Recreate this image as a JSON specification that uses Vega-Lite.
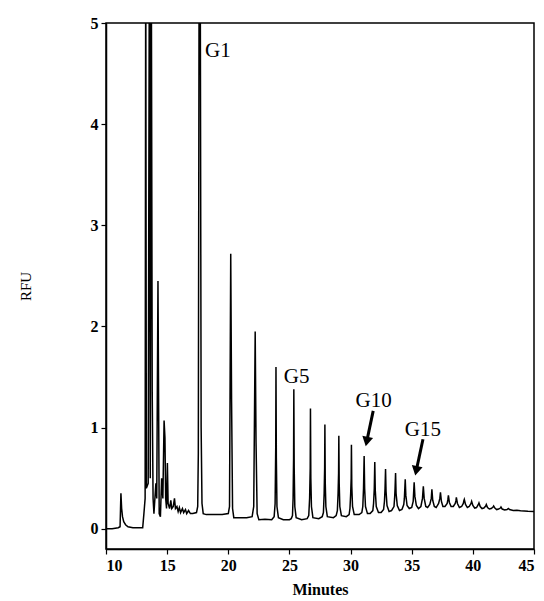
{
  "$schema": "https://vega.github.io/schema/vega-lite/v6.json",
  "width": 428,
  "height": 526,
  "autosize": {"type": "none"},
  "padding": {"left": 106, "top": 23, "right": 10, "bottom": 52},
  "background": "white",
  "config": {
    "view": {"stroke": "black", "strokeWidth": 1.5},
    "axis": {
      "domainColor": "black", "domainWidth": 1.5, "tickColor": "black", "tickWidth": 1.2, "tickSize": 5,
      "grid": false, "labelFont": "Liberation Serif", "labelFontSize": 16, "labelColor": "black",
      "titleFont": "Liberation Serif", "titleColor": "black", "labelFontWeight": "bold"
    }
  },
  "datasets": {
    "trace": [
      {"t": 10.0, "rfu": 0.0}, {"t": 10.5, "rfu": 0.0}, {"t": 11.0, "rfu": 0.01}, {"t": 11.15, "rfu": 0.02},
      {"t": 11.22, "rfu": 0.35}, {"t": 11.28, "rfu": 0.2}, {"t": 11.35, "rfu": 0.12}, {"t": 11.45, "rfu": 0.07},
      {"t": 11.6, "rfu": 0.04}, {"t": 11.8, "rfu": 0.02}, {"t": 12.2, "rfu": 0.01}, {"t": 13.0, "rfu": 0.01},
      {"t": 13.1, "rfu": 0.15}, {"t": 13.2, "rfu": 0.3}, {"t": 13.25, "rfu": 6.0}, {"t": 13.3, "rfu": 0.4},
      {"t": 13.45, "rfu": 0.45}, {"t": 13.55, "rfu": 6.0}, {"t": 13.62, "rfu": 0.5}, {"t": 13.7, "rfu": 6.0},
      {"t": 13.78, "rfu": 1.35}, {"t": 13.85, "rfu": 0.3}, {"t": 13.92, "rfu": 0.15}, {"t": 14.0, "rfu": 0.3},
      {"t": 14.08, "rfu": 0.45}, {"t": 14.15, "rfu": 0.3}, {"t": 14.25, "rfu": 2.45}, {"t": 14.35, "rfu": 0.15},
      {"t": 14.45, "rfu": 0.12}, {"t": 14.55, "rfu": 0.5}, {"t": 14.65, "rfu": 0.3}, {"t": 14.75, "rfu": 1.07},
      {"t": 14.82, "rfu": 0.9}, {"t": 14.88, "rfu": 0.3}, {"t": 14.95, "rfu": 0.2}, {"t": 15.02, "rfu": 0.65},
      {"t": 15.08, "rfu": 0.25}, {"t": 15.2, "rfu": 0.2}, {"t": 15.3, "rfu": 0.28}, {"t": 15.38, "rfu": 0.2},
      {"t": 15.5, "rfu": 0.22}, {"t": 15.6, "rfu": 0.3}, {"t": 15.68, "rfu": 0.2}, {"t": 15.8, "rfu": 0.22},
      {"t": 15.9, "rfu": 0.17}, {"t": 16.0, "rfu": 0.21}, {"t": 16.1, "rfu": 0.16}, {"t": 16.25, "rfu": 0.2},
      {"t": 16.35, "rfu": 0.16}, {"t": 16.5, "rfu": 0.19}, {"t": 16.6, "rfu": 0.15}, {"t": 16.75, "rfu": 0.18},
      {"t": 16.9, "rfu": 0.15}, {"t": 17.1, "rfu": 0.15}, {"t": 17.4, "rfu": 0.16}, {"t": 17.5, "rfu": 0.22},
      {"t": 17.55, "rfu": 0.75}, {"t": 17.62, "rfu": 6.0}, {"t": 17.7, "rfu": 6.0}, {"t": 17.78, "rfu": 1.0},
      {"t": 17.85, "rfu": 0.25}, {"t": 17.95, "rfu": 0.15}, {"t": 18.2, "rfu": 0.14}, {"t": 18.8, "rfu": 0.14},
      {"t": 19.5, "rfu": 0.14}, {"t": 20.0, "rfu": 0.15}, {"t": 20.1, "rfu": 0.22}, {"t": 20.2, "rfu": 2.72},
      {"t": 20.27, "rfu": 1.25}, {"t": 20.35, "rfu": 0.2}, {"t": 20.45, "rfu": 0.11}, {"t": 21.0, "rfu": 0.11},
      {"t": 21.5, "rfu": 0.11}, {"t": 21.95, "rfu": 0.12}, {"t": 22.08, "rfu": 0.22}, {"t": 22.2, "rfu": 1.95},
      {"t": 22.27, "rfu": 0.85}, {"t": 22.36, "rfu": 0.15}, {"t": 22.5, "rfu": 0.09}, {"t": 23.0, "rfu": 0.095},
      {"t": 23.55, "rfu": 0.09}, {"t": 23.75, "rfu": 0.12}, {"t": 23.83, "rfu": 0.25}, {"t": 23.88, "rfu": 0.8},
      {"t": 23.9, "rfu": 1.6}, {"t": 23.93, "rfu": 0.7}, {"t": 23.98, "rfu": 0.22}, {"t": 24.1, "rfu": 0.11},
      {"t": 24.5, "rfu": 0.09}, {"t": 25.0, "rfu": 0.09},
      {"t": 25.15, "rfu": 0.1}, {"t": 25.25, "rfu": 0.13}, {"t": 25.3, "rfu": 0.3}, {"t": 25.34, "rfu": 0.7},
      {"t": 25.36, "rfu": 1.38}, {"t": 25.39, "rfu": 0.6}, {"t": 25.44, "rfu": 0.22}, {"t": 25.55, "rfu": 0.11},
      {"t": 26.0, "rfu": 0.09}, {"t": 26.45, "rfu": 0.1},
      {"t": 26.58, "rfu": 0.13}, {"t": 26.65, "rfu": 0.3}, {"t": 26.7, "rfu": 0.6}, {"t": 26.72, "rfu": 1.19},
      {"t": 26.75, "rfu": 0.5}, {"t": 26.8, "rfu": 0.22}, {"t": 26.92, "rfu": 0.11}, {"t": 27.4, "rfu": 0.1},
      {"t": 27.68, "rfu": 0.12},
      {"t": 27.78, "rfu": 0.16}, {"t": 27.84, "rfu": 0.35}, {"t": 27.88, "rfu": 0.6}, {"t": 27.9, "rfu": 1.03},
      {"t": 27.93, "rfu": 0.45}, {"t": 27.98, "rfu": 0.22}, {"t": 28.1, "rfu": 0.12}, {"t": 28.6, "rfu": 0.11},
      {"t": 28.82, "rfu": 0.13},
      {"t": 28.92, "rfu": 0.18}, {"t": 28.98, "rfu": 0.35}, {"t": 29.02, "rfu": 0.55}, {"t": 29.04, "rfu": 0.92},
      {"t": 29.07, "rfu": 0.45}, {"t": 29.12, "rfu": 0.22}, {"t": 29.25, "rfu": 0.13}, {"t": 29.65, "rfu": 0.12},
      {"t": 29.88, "rfu": 0.14},
      {"t": 29.95, "rfu": 0.2}, {"t": 30.01, "rfu": 0.35}, {"t": 30.05, "rfu": 0.5}, {"t": 30.07, "rfu": 0.83},
      {"t": 30.1, "rfu": 0.42}, {"t": 30.16, "rfu": 0.22}, {"t": 30.3, "rfu": 0.14}, {"t": 30.7, "rfu": 0.14},
      {"t": 30.92, "rfu": 0.16},
      {"t": 31.0, "rfu": 0.22}, {"t": 31.06, "rfu": 0.4}, {"t": 31.11, "rfu": 0.72}, {"t": 31.15, "rfu": 0.4},
      {"t": 31.22, "rfu": 0.22}, {"t": 31.38, "rfu": 0.15}, {"t": 31.6, "rfu": 0.15}, {"t": 31.82, "rfu": 0.18},
      {"t": 31.88, "rfu": 0.25}, {"t": 31.94, "rfu": 0.4}, {"t": 31.98, "rfu": 0.66}, {"t": 32.02, "rfu": 0.38},
      {"t": 32.1, "rfu": 0.22}, {"t": 32.28, "rfu": 0.16}, {"t": 32.5, "rfu": 0.16}, {"t": 32.7, "rfu": 0.19},
      {"t": 32.77, "rfu": 0.27}, {"t": 32.82, "rfu": 0.4}, {"t": 32.86, "rfu": 0.59}, {"t": 32.9, "rfu": 0.37},
      {"t": 32.98, "rfu": 0.23}, {"t": 33.15, "rfu": 0.17}, {"t": 33.35, "rfu": 0.18}, {"t": 33.55, "rfu": 0.22},
      {"t": 33.6, "rfu": 0.3}, {"t": 33.64, "rfu": 0.4}, {"t": 33.68, "rfu": 0.55}, {"t": 33.72, "rfu": 0.35},
      {"t": 33.82, "rfu": 0.23}, {"t": 34.0, "rfu": 0.18}, {"t": 34.2, "rfu": 0.19}, {"t": 34.35, "rfu": 0.24},
      {"t": 34.4, "rfu": 0.3}, {"t": 34.47, "rfu": 0.49}, {"t": 34.52, "rfu": 0.33}, {"t": 34.62, "rfu": 0.23},
      {"t": 34.8, "rfu": 0.2}, {"t": 35.0, "rfu": 0.21}, {"t": 35.12, "rfu": 0.27},
      {"t": 35.2, "rfu": 0.46}, {"t": 35.26, "rfu": 0.32}, {"t": 35.38, "rfu": 0.23}, {"t": 35.55, "rfu": 0.2},
      {"t": 35.75, "rfu": 0.22}, {"t": 35.88, "rfu": 0.3},
      {"t": 35.95, "rfu": 0.42}, {"t": 36.02, "rfu": 0.3}, {"t": 36.15, "rfu": 0.22}, {"t": 36.3, "rfu": 0.21},
      {"t": 36.48, "rfu": 0.24}, {"t": 36.6, "rfu": 0.3},
      {"t": 36.65, "rfu": 0.39}, {"t": 36.72, "rfu": 0.28}, {"t": 36.85, "rfu": 0.22}, {"t": 37.0, "rfu": 0.21},
      {"t": 37.2, "rfu": 0.25}, {"t": 37.3, "rfu": 0.3},
      {"t": 37.35, "rfu": 0.36}, {"t": 37.43, "rfu": 0.27}, {"t": 37.55, "rfu": 0.22}, {"t": 37.72, "rfu": 0.22},
      {"t": 37.9, "rfu": 0.25}, {"t": 37.96, "rfu": 0.29},
      {"t": 38.0, "rfu": 0.33}, {"t": 38.08, "rfu": 0.26}, {"t": 38.22, "rfu": 0.22}, {"t": 38.4, "rfu": 0.22},
      {"t": 38.56, "rfu": 0.25}, {"t": 38.62, "rfu": 0.28},
      {"t": 38.65, "rfu": 0.31}, {"t": 38.74, "rfu": 0.25}, {"t": 38.9, "rfu": 0.21}, {"t": 39.08, "rfu": 0.22},
      {"t": 39.22, "rfu": 0.25}, {"t": 39.27, "rfu": 0.28},
      {"t": 39.3, "rfu": 0.29}, {"t": 39.4, "rfu": 0.24}, {"t": 39.55, "rfu": 0.21}, {"t": 39.7, "rfu": 0.22},
      {"t": 39.85, "rfu": 0.25},
      {"t": 39.9, "rfu": 0.27}, {"t": 40.0, "rfu": 0.23}, {"t": 40.15, "rfu": 0.205}, {"t": 40.3, "rfu": 0.21},
      {"t": 40.45, "rfu": 0.24},
      {"t": 40.5, "rfu": 0.255}, {"t": 40.6, "rfu": 0.22}, {"t": 40.75, "rfu": 0.2}, {"t": 40.9, "rfu": 0.205},
      {"t": 41.05, "rfu": 0.225},
      {"t": 41.1, "rfu": 0.24}, {"t": 41.2, "rfu": 0.21}, {"t": 41.35, "rfu": 0.195}, {"t": 41.5, "rfu": 0.2},
      {"t": 41.65, "rfu": 0.215},
      {"t": 41.7, "rfu": 0.225}, {"t": 41.8, "rfu": 0.205}, {"t": 41.95, "rfu": 0.19}, {"t": 42.1, "rfu": 0.195},
      {"t": 42.25, "rfu": 0.205},
      {"t": 42.3, "rfu": 0.215}, {"t": 42.4, "rfu": 0.195}, {"t": 42.6, "rfu": 0.185}, {"t": 42.8, "rfu": 0.19},
      {"t": 42.9, "rfu": 0.2}, {"t": 43.0, "rfu": 0.19}, {"t": 43.3, "rfu": 0.18}, {"t": 43.6, "rfu": 0.182},
      {"t": 43.9, "rfu": 0.177}, {"t": 44.2, "rfu": 0.175}, {"t": 44.5, "rfu": 0.172}, {"t": 45.0, "rfu": 0.17}
    ],
    "labels": [
      {"t": 18.1, "rfu": 4.66, "label": "G1"},
      {"t": 24.54, "rfu": 1.445, "label": "G5"},
      {"t": 30.4, "rfu": 1.2, "label": "G10"},
      {"t": 34.44, "rfu": 0.92, "label": "G15"}
    ],
    "arrows": [
      {"t": 31.85, "rfu": 1.165, "t2": 31.32, "rfu2": 0.862},
      {"t": 35.92, "rfu": 0.885, "t2": 35.37, "rfu2": 0.573}
    ]
  },
  "layer": [
    {
      "data": {"name": "trace"},
      "mark": {"type": "line", "clip": true, "color": "black", "strokeWidth": 1.5, "interpolate": "linear"},
      "encoding": {
        "x": {"field": "t", "type": "quantitative", "scale": {"domain": [10, 45], "nice": false},
          "axis": {"values": [10, 15, 20, 25, 30, 35, 40, 45], "format": "d", "title": "Minutes", "titleFontSize": 16, "titleFontWeight": "bold", "titleY": 40, "titleBaseline": "middle", "labelPadding": 3}},
        "y": {"field": "rfu", "type": "quantitative", "scale": {"domain": [-0.2, 5], "nice": false, "zero": false},
          "axis": {"values": [0, 1, 2, 3, 4, 5], "format": "d", "title": "RFU", "titleFontSize": 15, "titleFontWeight": "normal", "titleAngle": 270, "titleX": -81, "titleY": 263, "titleAlign": "center", "titleBaseline": "middle", "labelPadding": 3}}
      }
    },
    {
      "data": {"name": "labels"},
      "mark": {"type": "text", "font": "Liberation Serif", "fontSize": 21, "align": "left", "baseline": "alphabetic", "color": "black"},
      "encoding": {
        "x": {"field": "t", "type": "quantitative"},
        "y": {"field": "rfu", "type": "quantitative"},
        "text": {"field": "label"}
      }
    },
    {
      "data": {"name": "arrows"},
      "mark": {"type": "rule", "color": "black", "strokeWidth": 3},
      "encoding": {
        "x": {"field": "t", "type": "quantitative"},
        "y": {"field": "rfu", "type": "quantitative"},
        "x2": {"field": "t2"},
        "y2": {"field": "rfu2"}
      }
    },
    {
      "data": {"name": "arrows"},
      "mark": {"type": "point", "shape": "triangle-down", "filled": true, "color": "black", "opacity": 1, "size": 120, "angle": 12},
      "encoding": {
        "x": {"field": "t2", "type": "quantitative"},
        "y": {"field": "rfu2", "type": "quantitative"}
      }
    }
  ]
}
